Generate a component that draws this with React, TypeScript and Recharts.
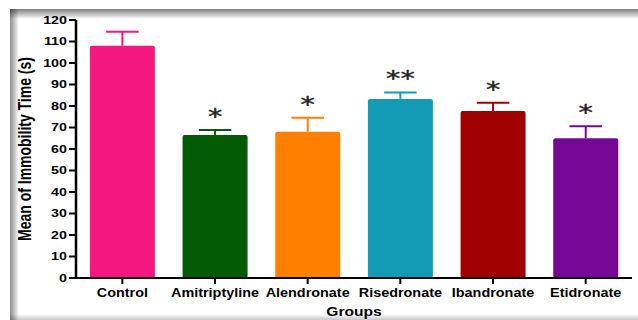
import { BarChart, Bar, XAxis, YAxis, Cell, Label, Rectangle } from "recharts";

const groups = ["Control", "Amitriptyline", "Alendronate", "Risedronate", "Ibandronate", "Etidronate"];
const means = [108, 66.5, 68, 83.3, 77.7, 65];
const sem = [6.5, 2.3, 6.5, 3, 3.8, 5.6];
const stars = ["", "*", "*", "**", "*", "*"];
const barColors = ["#f4177f", "#025a02", "#ff8000", "#139bb5", "#a00000", "#750895"];
const yTicks = [0, 10, 20, 30, 40, 50, 60, 70, 80, 90, 100, 110, 120];

const data = groups.map((group, i) => ({ group, mean: means[i], sem: sem[i], star: stars[i] }));

const FONT = '"Liberation Sans", Arial, sans-serif';

// bar + upper error whisker + significance marks, scaled from the bar's own height
function BarWithError(props: any) {
  const { x, y, width, height, payload, fill } = props;
  const pxPerUnit = height / payload.mean;
  const top = y - payload.sem * pxPerUnit;
  const cx = x + width / 2;
  const cap = width / 4;
  return (
    <g>
      <line x1={cx} x2={cx} y1={y} y2={top} stroke={fill} strokeWidth={2} />
      <line x1={cx - cap} x2={cx + cap} y1={top} y2={top} stroke={fill} strokeWidth={2} />
      <Rectangle x={x} y={y} width={width} height={height} fill={fill} radius={2} />
      {payload.star ? (
        <g transform={`translate(${cx},${top - 6}) scale(1.3,1)`}>
          <text textAnchor="middle" fontFamily='"DejaVu Sans", sans-serif' fontSize={22} fill="#222" stroke="#222" strokeWidth={0.4}>
            {payload.star}
          </text>
        </g>
      ) : null}
    </g>
  );
}

function YTick(props: any) {
  const { x, y, payload } = props;
  return (
    <g transform={`translate(${x},${y}) scale(1.3,1)`}>
      <text textAnchor="end" dy="0.36em" fontFamily={FONT} fontWeight="bold" fontSize={11} fill="#000">
        {payload.value}
      </text>
    </g>
  );
}

function XTick(props: any) {
  const { x, y, payload } = props;
  return (
    <g transform={`translate(${x},${y}) scale(1.2,1)`}>
      <text textAnchor="middle" dy={11} fontFamily={FONT} fontWeight="bold" fontSize={12} fill="#000">
        {payload.value}
      </text>
    </g>
  );
}

function YTitle(props: any) {
  const { viewBox } = props;
  const cx = viewBox.x + 25;
  const cy = viewBox.y + viewBox.height / 2;
  return (
    <g transform={`translate(${cx},${cy}) scale(1.3,1) rotate(-90)`}>
      <text textAnchor="middle" dy="0.35em" fontFamily={FONT} fontWeight="bold" fontSize={14} fill="#000">
        Mean of Immobility Time (s)
      </text>
    </g>
  );
}

function XTitle(props: any) {
  const { viewBox } = props;
  const cx = viewBox.x + viewBox.width / 2;
  return (
    <g transform={`translate(${cx},${viewBox.y + 38}) scale(1.2,1)`}>
      <text textAnchor="middle" fontFamily={FONT} fontWeight="bold" fontSize={13} fill="#000">
        Groups
      </text>
    </g>
  );
}

export default function App() {
  return (
    <div style={{ position: "fixed", left: 0, top: 0, width: 638, height: 320, background: "#fff", overflow: "hidden" }}>
      <BarChart
        width={638}
        height={320}
        data={data}
        margin={{ top: 20, right: 6, bottom: 0, left: 0 }}
        barCategoryGap="15%"
      >
        <XAxis
          dataKey="group"
          height={42}
          interval={0}
          axisLine={{ stroke: "#000", strokeWidth: 2 }}
          tickLine={{ stroke: "#000", strokeWidth: 2 }}
          tickSize={6}
          tickMargin={2}
          tick={<XTick />}
        >
          <Label content={<XTitle />} />
        </XAxis>
        <YAxis
          domain={[0, 120]}
          ticks={yTicks}
          interval={0}
          width={76}
          axisLine={{ stroke: "#000", strokeWidth: 2.5 }}
          tickLine={{ stroke: "#000", strokeWidth: 2 }}
          tickSize={7}
          tickMargin={2}
          tick={<YTick />}
        >
          <Label content={<YTitle />} />
        </YAxis>
        <Bar dataKey="mean" shape={<BarWithError />} isAnimationActive={false}>
          {data.map((_d, i) => (
            <Cell key={i} fill={barColors[i]} />
          ))}
        </Bar>
      </BarChart>
      {/* frame shading */}
      <div style={{ position: "absolute", left: 10, top: 9, right: 0, height: 10, pointerEvents: "none", background: "linear-gradient(to bottom, rgba(0,0,0,0.5), rgba(0,0,0,0))" }} />
      <div style={{ position: "absolute", left: 10, top: 9, bottom: 0, width: 9, pointerEvents: "none", background: "linear-gradient(to right, rgba(0,0,0,0.45), rgba(0,0,0,0))" }} />
      <div style={{ position: "absolute", left: 10, right: 0, bottom: 0, height: 6, pointerEvents: "none", background: "linear-gradient(to top, rgba(0,0,0,0.22), rgba(0,0,0,0))" }} />
    </div>
  );
}
